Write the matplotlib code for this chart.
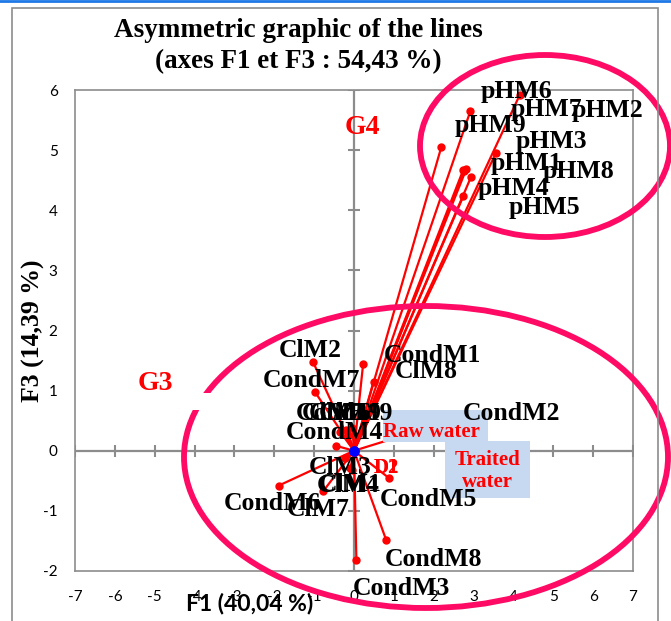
import matplotlib
matplotlib.use("Agg")
import matplotlib.pyplot as plt
from matplotlib.patches import Ellipse, Rectangle

plt.rcParams["axes.unicode_minus"] = False

################################################################
########################## Data ################################
################################################################

# Lines (observations) and their coordinates on F1 / F3
names = ["pHM1", "pHM2", "pHM3", "pHM4", "pHM5", "pHM6", "pHM7", "pHM8", "pHM9",
         "CondM1", "CondM2", "CondM3", "CondM4", "CondM5", "CondM6", "CondM7",
         "CondM8", "CondM9",
         "ClM1", "ClM2", "ClM3", "ClM4", "ClM5", "ClM6", "ClM7", "ClM8", "ClM9"]
f1 = [2.94, 2.82, 2.74, 2.19, 2.74, 4.16, 3.56, 2.77, 2.92,
      0.23, 2.19, 0.06, -0.44, 0.87, -1.89, -0.97, 0.81, -0.19,
      -0.09, -1.03, -0.22, -0.04, -0.34, -0.14, -0.77, 0.49, -0.04]
f3 = [4.56, 4.69, 4.67, 5.05, 4.23, 5.92, 4.95, 4.65, 5.65,
      1.45, 0.45, -1.82, 0.08, -0.45, -0.58, 0.97, -1.49, 0.35,
      -0.29, 1.48, -0.12, -0.32, 0.31, 0.26, -0.67, 1.15, 0.38]

# label offsets in pixels (label centre / baseline relative to the point)
lab_dx = [55, 141, 88, 72, 81, -3, 51, 114, 20,
          69, 70, 45, -2, 40, -6, -4, 47, -2,
          0, -3, -5, -4, -7, -8, -5, 53, -2]
lab_dy = [7, 52, 22, -48, -18, -3, 37, -7, -21,
          2, 4, -35, 7, -28, -24, 5, -26, 10,
          -23, 5, -16, -22, 12, 15, -25, 4, 8]

# Columns
col_names = ["D1", "D2"]
col_f1 = [0.0, 0.0]
col_f3 = [0.0, 0.0]

xticks = list(range(-7, 8))
yticks = list(range(-2, 7))

################################################################
########################## Plot ################################
################################################################

W, H = 671, 621
gray = "#8C8C8C"
pink = "#FF0A64"
serif = "Liberation Serif"


def fx(px):
    return px / W


def fy(py):
    return 1 - py / H


fig = plt.figure(figsize=(W / 100, H / 100), dpi=100)
ax = fig.add_axes([fx(75), fy(571), fx(633) - fx(75), fy(90) - fy(571)])
ax.set_xlim(-7, 7)
ax.set_ylim(-2, 6)

for s in ax.spines.values():
    s.set_color(gray)
    s.set_linewidth(1.2)

ax.set_xticks(xticks)
ax.set_yticks(yticks)
ax.tick_params(length=0, labelsize=11, colors="black")
ax.tick_params(axis="x", pad=13.5)
ax.tick_params(axis="y", pad=12.5)
for t in ax.get_xticklabels() + ax.get_yticklabels():
    t.set_family("Lato")

# axes through origin with tick marks
ax.axhline(0, color=gray, lw=1.6, zorder=1)
ax.axvline(0, color=gray, lw=1.6, zorder=1)
ax.plot(xticks, [0] * len(xticks), ls="none", marker="|", ms=8,
        mew=1.5, color=gray, zorder=1)
ax.plot([0] * len(yticks), yticks, ls="none", marker="_", ms=9,
        mew=1.5, color=gray, zorder=1)

# vectors from origin
for x, y in zip(f1, f3):
    ax.plot([0, x], [0, y], color="red", lw=1.6, zorder=2)
ax.plot(f1, f3, ls="none", marker="o", ms=5, color="red", zorder=3)
ax.plot(col_f1, col_f3, ls="none", marker="o", ms=6.5, color="blue", zorder=7)

for n, x, y, dx, dy in zip(names, f1, f3, lab_dx, lab_dy):
    ax.annotate(n, (x, y), xytext=(dx, dy), textcoords="offset pixels",
                ha="center", va="baseline", fontsize=18.5,
                fontweight="bold", family=serif, zorder=6)
for n, x, y in zip(col_names, col_f1, col_f3):
    ax.annotate(n, (x, y), xytext=(32, -22), textcoords="offset pixels",
                ha="center", va="baseline", fontsize=15, color="red",
                fontweight="bold", family=serif, zorder=6)

# Raw / Traited water boxes
ax.add_patch(Rectangle((fx(383), fy(442)), fx(105), 32 / H,
                       transform=fig.transFigure, clip_on=False,
                       facecolor="#C6D9F1", edgecolor="none", zorder=4))
ax.add_patch(Rectangle((fx(445), fy(498)), fx(85), 57 / H,
                       transform=fig.transFigure, clip_on=False,
                       facecolor="#C6D9F1", edgecolor="none", zorder=4))
ax.text(fx(431), fy(437), "Raw water", transform=fig.transFigure,
        ha="center", va="baseline", fontsize=15, color="red",
        fontweight="bold", family=serif, zorder=5)
ax.text(fx(487), fy(471), "Traited\nwater", transform=fig.transFigure,
        ha="center", va="center", fontsize=15, color="red",
        fontweight="bold", family=serif, zorder=5, linespacing=1.15)

# group ellipses
ax.add_patch(Ellipse((fx(545), fy(146)), fx(250), 182 / H,
                     transform=fig.transFigure, clip_on=False, fill=False,
                     edgecolor=pink, lw=4.2, zorder=10))
ax.add_patch(Ellipse((fx(426), fy(457)), fx(484), 302 / H,
                     transform=fig.transFigure, clip_on=False, fill=False,
                     edgecolor=pink, lw=4.2, zorder=10))
ax.add_patch(Rectangle((fx(190), fy(410)), fx(25), 17 / H,
                       transform=fig.transFigure, clip_on=False,
                       facecolor="white", edgecolor="none", zorder=11))

ax.text(fx(362), fy(128), "G4", transform=fig.transFigure, ha="center",
        va="center", fontsize=20, color="red", fontweight="bold",
        family=serif, zorder=6)
ax.text(fx(155), fy(383), "G3", transform=fig.transFigure, ha="center",
        va="center", fontsize=20, color="red", fontweight="bold",
        family=serif, zorder=6)

# titles and axis labels
fig.text(fx(298), fy(37), "Asymmetric graphic of the lines", ha="center",
         va="baseline", fontsize=19.5, fontweight="bold", family=serif)
fig.text(fx(298), fy(68), "(axes F1 et F3 : 54,43 %)", ha="center",
         va="baseline", fontsize=19.5, fontweight="bold", family=serif)
fig.text(fx(250), fy(603), "F1 (40,04 %)", ha="center", va="center",
         fontsize=16.5, fontweight="bold", family="Lato")
fig.text(fx(33), fy(331), "F3 (14,39 %)", ha="center", va="center",
         rotation=90, fontsize=18.5, fontweight="bold", family=serif)

# chart frame
fig.add_artist(Rectangle((fx(12), -0.05), fx(646), fy(8) + 0.05,
                         transform=fig.transFigure, fill=False,
                         edgecolor=gray, lw=1.2))
fig.add_artist(plt.Line2D([0, 1], [fy(1), fy(1)], transform=fig.transFigure,
                          color="#1E78E6", lw=2))

plt.savefig("out.png", dpi=100)
